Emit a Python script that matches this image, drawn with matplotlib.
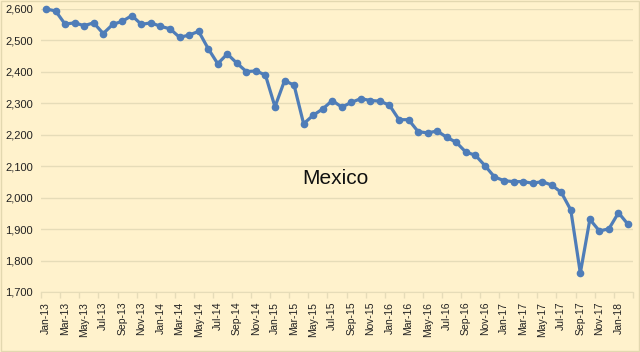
import matplotlib
matplotlib.use("Agg")
import matplotlib.pyplot as plt
from matplotlib.ticker import FuncFormatter, FixedLocator

months = ["Jan", "Feb", "Mar", "Apr", "May", "Jun", "Jul", "Aug", "Sep", "Oct", "Nov", "Dec"]
labels = [f"{m}-{y}" for y in range(13, 19) for m in months][:62]

values = [2600, 2594, 2552, 2556, 2547, 2556, 2522, 2551, 2561, 2579, 2551, 2556,
          2545, 2537, 2510, 2517, 2529, 2474, 2426, 2457, 2428, 2401, 2403, 2390,
          2289, 2372, 2358, 2235, 2262, 2282, 2309, 2288, 2303, 2315, 2309, 2307,
          2294, 2248, 2248, 2210, 2206, 2212, 2192, 2176, 2145, 2135, 2102, 2066,
          2054, 2051, 2051, 2046, 2051, 2040, 2017, 1961, 1760, 1931, 1894, 1901,
          1952, 1915]

bg = "#FFF2CC"
grid_c = "#E6DCB8"
line_c = "#4F7DB8"

plt.rcParams['font.family'] = ['Liberation Sans', 'DejaVu Sans']

fig = plt.figure(figsize=(6.4, 3.52), dpi=100, facecolor=bg)
ax = fig.add_axes([41.2 / 640, 60 / 352, 591.6 / 640, 283 / 352])
ax.set_facecolor(bg)

x = list(range(len(values)))
ax.plot(x, values, color=line_c, lw=2.3, marker="o", ms=4.5, zorder=3, clip_on=False)

ax.set_xlim(-0.5, len(values) - 0.5)
ax.set_ylim(1700, 2600)
ax.set_yticks(range(1700, 2601, 100))
ax.yaxis.set_major_formatter(FuncFormatter(lambda v, p: f"{int(v):,}"))
ax.grid(axis="y", color=grid_c, lw=1)
ax.set_axisbelow(True)

ax.set_xticks(x[::2])
ax.set_xticklabels(labels[::2], rotation=90, fontsize=7.5, color="#222222")
ax.xaxis.set_minor_locator(FixedLocator([i - 0.5 for i in range(0, len(values) + 1, 2)]))
ax.tick_params(axis="x", which="major", length=0, pad=7)
ax.tick_params(axis="x", which="minor", length=4, color=grid_c, width=1)
ax.tick_params(axis="y", length=0, labelsize=8, labelcolor="#222222", pad=6)

for s in ["top", "right", "left"]:
    ax.spines[s].set_visible(False)
ax.spines["bottom"].set_color(grid_c)

ax.text(0.498, 0.40, "Mexico", transform=ax.transAxes, ha="center", va="center",
        fontsize=15, color="#111111")

fig.patches.append(plt.Rectangle((0.001, 0.002), 0.997, 0.995, transform=fig.transFigure,
                                 fill=False, edgecolor="#E3D8B0", lw=1))

fig.savefig("out.png", dpi=100, facecolor=bg)
